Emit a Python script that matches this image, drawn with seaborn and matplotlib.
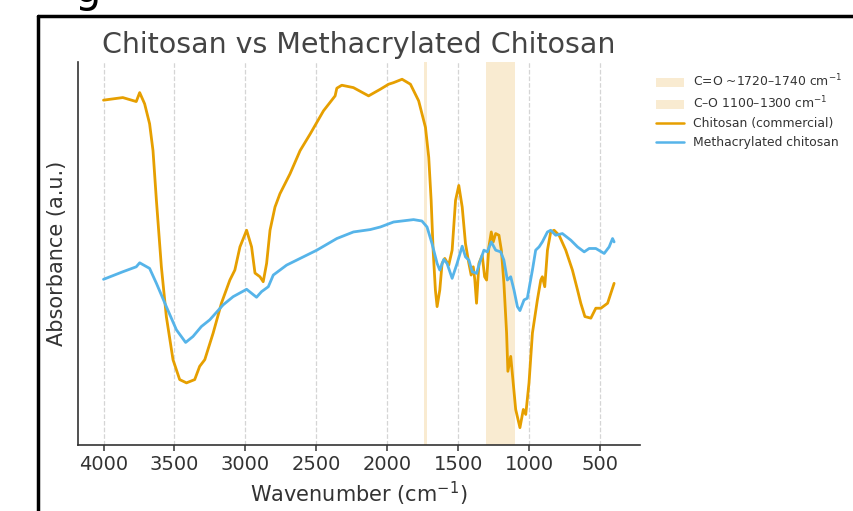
import numpy as np
import pandas as pd
import matplotlib
matplotlib.use("Agg")
import matplotlib.pyplot as plt
import seaborn as sns
from matplotlib.patches import Patch
from matplotlib.lines import Line2D

# ---- data (absorbance in arbitrary units) ----
chitosan_wn = [4000, 3864, 3769, 3745, 3710, 3675, 3651, 3627, 3592, 3557, 3510, 3463, 3415,
               3357, 3322, 3286, 3227, 3168, 3109, 3074, 3038, 2991, 2956, 2932, 2897, 2874,
               2850, 2826, 2791, 2756, 2685, 2614, 2543, 2449, 2367, 2355, 2320, 2238, 2131,
               2048, 1990, 1955, 1895, 1836, 1778, 1730, 1707, 1690, 1676, 1660, 1648, 1629,
               1613, 1594, 1566, 1542, 1518, 1495, 1471, 1448, 1424, 1408, 1393, 1382, 1370,
               1353, 1330, 1313, 1299, 1283, 1266, 1252, 1235, 1212, 1195, 1177, 1158, 1149,
               1129, 1118, 1094, 1064, 1040, 1023, 1000, 976, 941, 917, 906, 889, 870, 847,
               823, 788, 741, 694, 658, 635, 606, 564, 529, 493, 446, 400]
chitosan_px = [99.3, 96.7, 100.7, 91.7, 103, 123, 150, 200, 266.7, 316.7, 360, 380, 383.3,
               380, 366.7, 360, 333.3, 303, 280, 270, 246.7, 230, 246.7, 273, 276.7, 281.7,
               263.3, 230, 206.7, 193.3, 173.3, 150, 133.3, 110, 95, 87.3, 84.3, 86.7, 95,
               88.3, 83.3, 81.7, 78.3, 83.3, 100, 126.7, 156.7, 200, 250, 290, 306.7, 290,
               263.3, 258.3, 265, 250, 200, 185, 206.7, 243.3, 263.3, 275, 266.7, 280, 303.3,
               263.3, 255, 276.7, 280, 246.7, 231.7, 241.7, 233.3, 235, 250, 283.3, 333.3, 371.7,
               356.7, 373.3, 410, 428.3, 410, 415, 383.3, 333.3, 300, 280, 276.7, 286.7, 250, 231.7,
               230, 235, 250, 270, 290, 303.3, 316.7, 318.3, 308.3, 308.3, 303.3, 283.3]
chitosan_abs = [(428.3 - p) / 350.0 for p in chitosan_px]

meth_wn = [4000, 3864, 3769, 3745, 3675, 3627, 3557, 3486, 3421, 3369, 3310, 3251, 3157,
           3086, 2991, 2956, 2921, 2886, 2838, 2803, 2709, 2591, 2496, 2355, 2238, 2119,
           2048, 1955, 1814, 1755, 1719, 1684, 1648, 1629, 1601, 1578, 1542, 1507, 1471,
           1448, 1424, 1400, 1370, 1346, 1318, 1294, 1266, 1235, 1200, 1177, 1153, 1129,
           1106, 1082, 1064, 1035, 1012, 976, 953, 929, 906, 870, 847, 812, 765, 705, 658,
           611, 576, 529, 470, 435, 411, 400]
meth_px = [279.3, 271.7, 266.7, 262.7, 268.3, 283.3, 306.7, 330, 342.7, 336.7, 326.7, 320, 305,
           296.7, 289.3, 293.3, 297.3, 291.7, 286.7, 275, 265, 256.7, 250, 238.3, 231.7, 229.3,
           226.7, 221.7, 219.3, 220.7, 226.7, 243.3, 263.3, 270, 259.3, 263.3, 278.3, 263.3, 246,
           256.7, 260, 271.7, 273.3, 261.7, 250, 251.7, 241.7, 250, 251.7, 260, 280, 276.7,
           290, 306.7, 310.7, 300, 298.3, 270, 250, 246.7, 241.7, 231.7, 230, 235, 233.3, 240, 246.7,
           251.7, 248.3, 248.3, 253.3, 246.7, 238.3, 241.7]
meth_abs = [(428.3 - p) / 350.0 for p in meth_px]

band_labels = ["C=O ~1720\u20131740 cm$^{-1}$", "C\u2013O 1100\u20131300 cm$^{-1}$"]
band_ranges = [(1720, 1740), (1100, 1300)]
series_labels = ["Chitosan (commercial)", "Methacrylated chitosan"]
xticks = [4000, 3500, 3000, 2500, 2000, 1500, 1000, 500]

df = pd.concat([
    pd.DataFrame({"Wavenumber": chitosan_wn, "Absorbance": chitosan_abs, "Sample": series_labels[0]}),
    pd.DataFrame({"Wavenumber": meth_wn, "Absorbance": meth_abs, "Sample": series_labels[1]}),
])

sns.set_style("ticks")
plt.rcParams["font.family"] = ["DejaVu Sans"]

ORANGE = "#E69F00"
BLUE = "#56B4E9"
BAND = "#F5DEB3"

fig = plt.figure(figsize=(8.54, 5.11), dpi=100)
ax = fig.add_axes([0.0913, 0.129, 0.6577, 0.750])

for lo, hi in band_ranges:
    ax.axvspan(lo, hi, color=BAND, alpha=0.6, lw=0, zorder=0)

sns.lineplot(data=df, x="Wavenumber", y="Absorbance", hue="Sample",
             palette=[ORANGE, BLUE], sort=False, estimator=None, lw=2.0,
             ax=ax, legend=False)

ax.set_xlim(4180, 220)
ax.set_xticks(xticks)
ax.set_yticks([])
ax.grid(axis="x", ls="--", color="#d5d5d5", lw=0.9)
ax.set_axisbelow(True)
sns.despine(ax=ax)
for s in ("left", "bottom"):
    ax.spines[s].set_color("#333333")
    ax.spines[s].set_linewidth(1.2)
ax.tick_params(axis="x", labelsize=14, colors="#333333", length=4, width=1.1, pad=3)
ax.set_xlabel("Wavenumber (cm$^{-1}$)", fontsize=15, color="#333333", labelpad=4)
ax.set_ylabel("Absorbance (a.u.)", fontsize=15, color="#333333", labelpad=8)
ax.set_title("Chitosan vs Methacrylated Chitosan", fontsize=20.5, color="#444444", pad=6)

handles = [Patch(facecolor=BAND, alpha=0.6, edgecolor="none", label=band_labels[0]),
           Patch(facecolor=BAND, alpha=0.6, edgecolor="none", label=band_labels[1]),
           Line2D([], [], color=ORANGE, lw=1.8, label=series_labels[0]),
           Line2D([], [], color=BLUE, lw=1.8, label=series_labels[1])]
ax.legend(handles=handles, loc="upper left", bbox_to_anchor=(1.01, 1.0), frameon=False,
          fontsize=8.9, handlelength=2.2, labelspacing=0.45, labelcolor="#333333")

# surrounding frame of the screenshot
fig.add_artist(Line2D([38 / 854, 38 / 854], [0, 1 - 16 / 511], transform=fig.transFigure,
                      color="black", lw=2.5))
fig.add_artist(Line2D([38 / 854, 1], [1 - 16 / 511, 1 - 16 / 511], transform=fig.transFigure,
                      color="black", lw=2.5))
fig.text(88 / 854, 1 - 2 / 511, "g", fontsize=30, ha="center", va="baseline", color="black")

fig.savefig("out.png", dpi=100)
